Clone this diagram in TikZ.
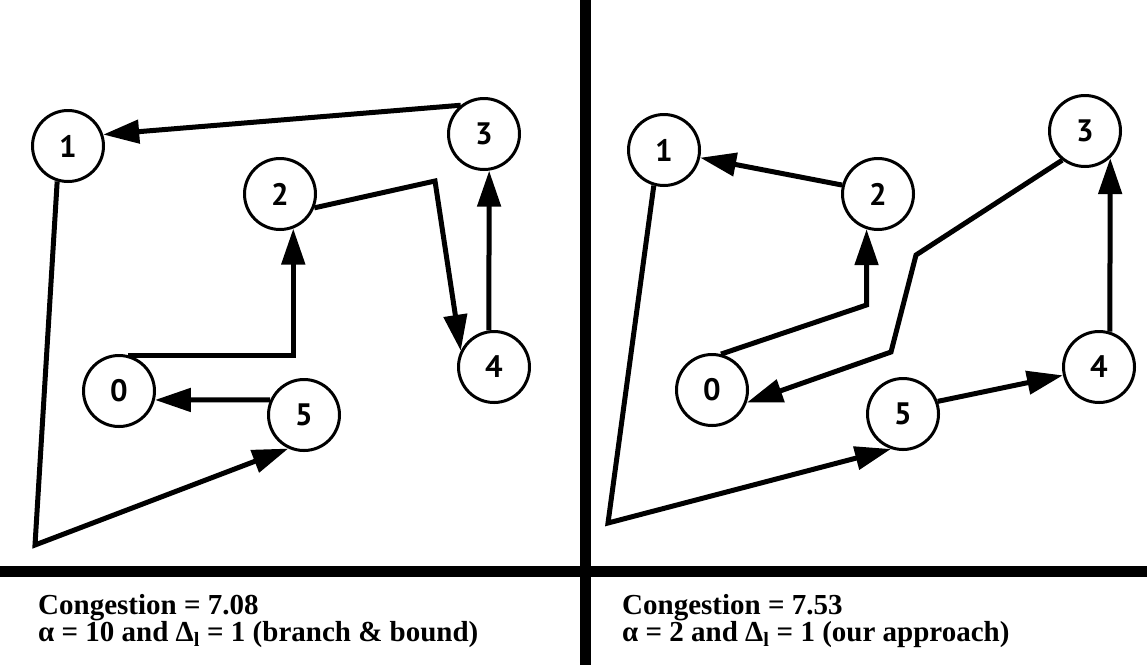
\documentclass[tikz,border=0pt]{standalone}
\usepackage{fontspec}
\setmainfont{Liberation Serif}
\newfontfamily\numfont{PT Sans}
\usetikzlibrary{arrows.meta}
\tikzset{
  vert/.style={circle, draw, line width=3pt, minimum size=71pt, inner sep=0pt,
    font=\numfont\bfseries\fontsize{31}{31}\selectfont},
  edge/.style={line width=5pt, -{Triangle[length=36pt,width=23pt]}},
  txt/.style={inner sep=0pt, anchor=base west, font=\bfseries\fontsize{29}{29}\selectfont},
  divider/.style={line width=10.5pt}
}
\begin{document}
\begin{tikzpicture}[x=1pt,y=-1pt]
\useasboundingbox (0,0) rectangle (1147,665);
% dividers
\coordinate (vt) at (585.5,0);
\coordinate (vb) at (585.5,665);
\coordinate (hl) at (0,571.5);
\coordinate (hr) at (1147,571.5);
\draw[divider] (vt) -- (vb);
\draw[divider] (hl) -- (hr);
% left panel
\node[vert] (L1) at (68,146) {1};
\node[vert] (L2) at (280,194) {2};
\node[vert] (L3) at (484,134) {3};
\node[vert] (L4) at (494,367) {4};
\node[vert] (L0) at (119,391) {0};
\node[vert] (L5) at (304,415) {5};
\coordinate (Lc1) at (435,181);
\coordinate (Lc3) at (35,545);
\draw[edge] (L3.129) -- (L1.18);
\draw[edge] (L2.-22) -- (Lc1) -- (L4.154);
\draw[edge] (L4.98) -- (L3.-82);
\draw[edge] (L0.76) -| (L2.-69);
\draw[edge] (L5.156) -- (L0.-14);
\draw[edge] (L1.-107) -- (Lc3) -- (L5.-115);
% right panel
\node[vert] (R1) at (664,150) {1};
\node[vert] (R2) at (878,194) {2};
\node[vert] (R3) at (1085,131) {3};
\node[vert] (R4) at (1099,367) {4};
\node[vert] (R0) at (712,390) {0};
\node[vert] (R5) at (903,414) {5};
\coordinate (Rc1) at (866.5,305);
\coordinate (Rc2) at (916,255);
\coordinate (Rc3) at (891,352);
\coordinate (Rc4) at (608,523);
\draw[edge] (R2.166) -- (R1.-12);
\draw[edge] (R0.76) -- (Rc1) -- (R2.-108);
\draw[edge] (R3.-128) -- (Rc2) -- (Rc3) -- (R0.-20);
\draw[edge] (R4.73) -- (R3.-47);
\draw[edge] (R5.20) -- (R4.-167);
\draw[edge] (R1.-106) -- (Rc4) -- (R5.-109);
% captions
\node[txt] (LT1) at (38,614) {Congestion = 7.08};
\node[txt] (LT2) at (38,641) {α = 10 and Δ\textsubscript{l} = 1 (branch \& bound)};
\node[txt] (RT1) at (622,614) {Congestion = 7.53};
\node[txt] (RT2) at (622,641) {α = 2 and Δ\textsubscript{l} = 1 (our approach)};
\end{tikzpicture}
\end{document}
